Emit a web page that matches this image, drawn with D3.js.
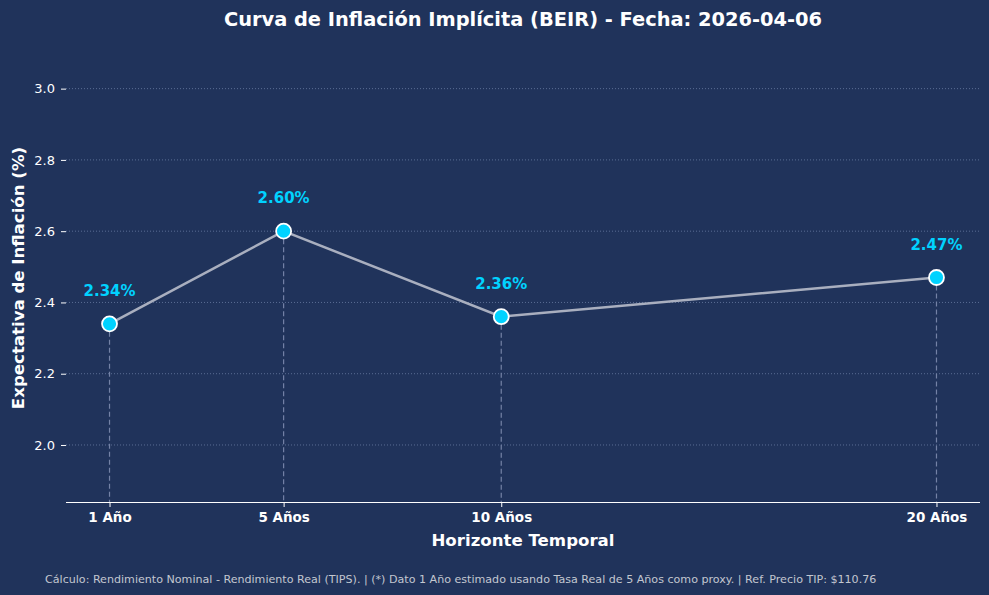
<!DOCTYPE html>
<html>
<head>
<meta charset="utf-8">
<script src="https://cdn.jsdelivr.net/npm/d3@7"></script>
<style>
  body { margin: 0; background: #20335b; }
  svg { display: block; }
  svg text { font-family: "DejaVu Sans", sans-serif; }
</style>
</head>
<body>
<div id="chart"></div>
<script>
// data
var plazos = [1, 5, 10, 20];
var etiquetas = ["1 Año", "5 Años", "10 Años", "20 Años"];
var beir = [2.34, 2.60, 2.36, 2.47];
var yTicks = [2.0, 2.2, 2.4, 2.6, 2.8, 3.0];

var svgWidth = 989;
var svgHeight = 595;
var margin = { top: 53, right: 9, bottom: 93, left: 66 };
var width = svgWidth - margin.left - margin.right;
var height = svgHeight - margin.top - margin.bottom;

var svg = d3.select("#chart")
    .append("svg")
    .attr("width", svgWidth)
    .attr("height", svgHeight);

svg.append("rect")
    .attr("width", svgWidth)
    .attr("height", svgHeight)
    .attr("fill", "#20335b");

var chart = svg.append("g")
    .attr("transform", `translate(${margin.left}, ${margin.top})`);

var x = d3.scaleLinear().domain([0, 21]).range([0, width]);
var y = d3.scaleLinear().domain([1.84, 3.1]).range([height, 0]);

// grid
chart.append("g")
    .selectAll("line")
    .data(yTicks)
    .enter()
    .append("line")
    .attr("x1", 0)
    .attr("x2", width)
    .attr("y1", d => y(d))
    .attr("y2", d => y(d))
    .attr("stroke", "#5a6d94")
    .attr("stroke-width", 1)
    .attr("stroke-dasharray", "1,2");

// y axis
var leftAxis = d3.axisLeft(y).tickValues(yTicks).tickFormat(d3.format(".1f")).tickSize(5).tickPadding(6);
var gy = chart.append("g").call(leftAxis).attr("font-family", null);
gy.select(".domain").remove();
gy.selectAll("line").attr("stroke", "#ffffff");
gy.selectAll("text").attr("fill", "#ffffff").style("font-size", "13px");

// x axis
var bottomAxis = d3.axisBottom(x).tickValues(plazos).tickFormat((d, i) => etiquetas[i]).tickSize(5).tickPadding(5);
var gx = chart.append("g")
    .attr("transform", `translate(0, ${height})`)
    .call(bottomAxis)
    .attr("font-family", null);
gx.select(".domain").attr("stroke", "#ffffff").attr("d", `M0,0.5H${width}`);
gx.selectAll("line").attr("stroke", "#ffffff");
gx.selectAll("text").attr("fill", "#ffffff").style("font-size", "13.5px").style("font-weight", "bold");

// drop lines
chart.append("g")
    .selectAll("line")
    .data(plazos)
    .enter()
    .append("line")
    .attr("x1", d => x(d))
    .attr("x2", d => x(d))
    .attr("y1", (d, i) => y(beir[i]))
    .attr("y2", height)
    .attr("stroke", "#7482a6")
    .attr("stroke-width", 1.2)
    .attr("stroke-dasharray", "5,3");

// line
var line = d3.line()
    .x((d, i) => x(plazos[i]))
    .y(d => y(d));

chart.append("path")
    .datum(beir)
    .attr("d", line)
    .attr("fill", "none")
    .attr("stroke", "#a9afbf")
    .attr("stroke-width", 2.5);

// points
chart.selectAll("circle")
    .data(beir)
    .enter()
    .append("circle")
    .attr("cx", (d, i) => x(plazos[i]))
    .attr("cy", d => y(d))
    .attr("r", 7.5)
    .attr("fill", "#00d2ff")
    .attr("stroke", "#ffffff")
    .attr("stroke-width", 1.8);

// value labels
chart.append("g")
    .selectAll("text")
    .data(beir)
    .enter()
    .append("text")
    .attr("x", (d, i) => x(plazos[i]))
    .attr("y", d => y(d) - 28)
    .attr("text-anchor", "middle")
    .attr("fill", "#00d2ff")
    .style("font-size", "15px")
    .style("font-weight", "bold")
    .text(d => d.toFixed(2) + "%");

// title
svg.append("text")
    .attr("x", margin.left + width / 2)
    .attr("y", 26)
    .attr("text-anchor", "middle")
    .attr("fill", "#ffffff")
    .style("font-size", "19.4px")
    .style("font-weight", "bold")
    .text("Curva de Inflación Implícita (BEIR) - Fecha: 2026-04-06");

// axis labels
svg.append("text")
    .attr("x", margin.left + width / 2)
    .attr("y", 546)
    .attr("text-anchor", "middle")
    .attr("fill", "#ffffff")
    .style("font-size", "16.6px")
    .style("font-weight", "bold")
    .text("Horizonte Temporal");

svg.append("text")
    .attr("transform", `translate(24, 278) rotate(-90)`)
    .attr("text-anchor", "middle")
    .attr("fill", "#ffffff")
    .style("font-size", "16.6px")
    .style("font-weight", "bold")
    .text("Expectativa de Inflación (%)");

// footer
svg.append("text")
    .attr("x", 45)
    .attr("y", 583)
    .attr("fill", "#c3c7d0")
    .style("font-size", "11.1px")
    .text("Cálculo: Rendimiento Nominal - Rendimiento Real (TIPS). | (*) Dato 1 Año estimado usando Tasa Real de 5 Años como proxy. | Ref. Precio TIP: $110.76");
</script>
</body>
</html>
